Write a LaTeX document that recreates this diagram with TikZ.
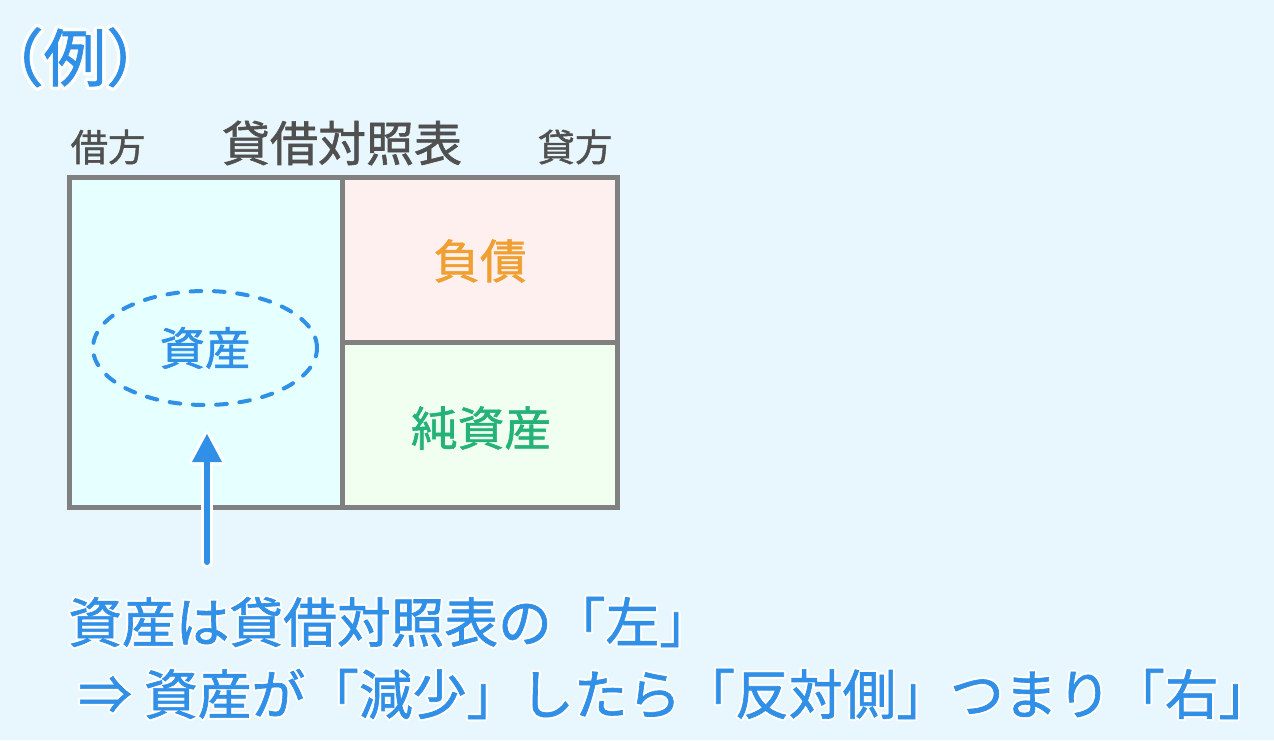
\documentclass[tikz,border=0pt]{standalone}
\usepackage{fontspec}
\newfontfamily\jp[FakeBold=1.2]{Noto Sans CJK JP}
\usepackage{contour}
\usetikzlibrary{shapes.geometric}
\definecolor{bg}{HTML}{E8F7FE}
\definecolor{frame}{HTML}{808080}
\definecolor{fillL}{HTML}{E6FFFF}
\definecolor{fillTR}{HTML}{FFF0F0}
\definecolor{fillBR}{HTML}{F0FFF0}
\definecolor{txtblue}{HTML}{3090E8}
\definecolor{txtgray}{HTML}{505050}
\definecolor{txtorange}{HTML}{F0A030}
\definecolor{txtgreen}{HTML}{25B277}
\newcommand{\fs}[1]{\fontsize{#1}{#1}\selectfont}
\tikzset{
  lbl/.style={font=\jp, inner sep=0pt},
  framebox/.style={draw=frame, line width=3.75pt},
}
\begin{document}
\begin{tikzpicture}[x=0.75pt,y=-0.75pt]
\fill[bg] (0,0) rectangle (1274,740);
\useasboundingbox (0,0) rectangle (1274,740);

% title
\node[lbl, text=txtblue] (rei) at (75,59) {\fs{47pt}\contourlength{2.5pt}\contour{white}{（例）}};
\node[lbl, text=txtgray] (kari) at (108,147) {\fs{28pt}借方};
\node[lbl, text=txtgray] (title) at (342,143) {\fs{36pt}貸借対照表};
\node[lbl, text=txtgray] (kashi) at (575,147) {\fs{28pt}貸方};

% balance sheet
\fill[fillL] (69,177) rectangle (342,507);
\fill[fillTR] (342,177) rectangle (617,342);
\fill[fillBR] (342,342) rectangle (617,507);
\draw[framebox] (69,177) rectangle (617,507);
\draw[framebox] (342,177) -- (342,507);
\draw[framebox] (342,342) -- (617,342);

\node[lbl, text=txtorange] (fusai) at (480,261) {\fs{35pt}負債};
\node[lbl, text=txtgreen] (jun) at (481,428) {\fs{35pt}純資産};
\node[lbl, text=txtblue, shape=ellipse, draw=txtblue, line width=3pt,
      dash pattern=on 8pt off 9.5pt, line cap=round,
      minimum width=168pt, minimum height=85.5pt] (asset) at (205,348) {\fs{34pt}資産};

% arrow
\coordinate (aS) at (207,562);
\coordinate (aB) at (207,458);
\coordinate (aT) at (207,434);
\draw[white, line width=9pt, line cap=round] (aS) -- (aB);
\draw[white, line width=4.5pt, line join=round] (aT) -- ++(-15,28) -- ++(30,0) -- cycle;
\draw[txtblue, line width=4.5pt, line cap=round] (aS) -- (aB);
\fill[txtblue] (aT) -- ++(-15,28) -- ++(30,0) -- cycle;

% explanation
\node[lbl, text=txtblue, anchor=west] (line1) at (68,623) {\fs{40.3pt}\contourlength{1.5pt}\contour{white}{資産は貸借対照表の「左」}};
\node[lbl, text=txtblue, anchor=west] (line2) at (78,695) {\fs{40.3pt}\contourlength{1.5pt}\contour{white}{⇒ 資産が「減少」したら「反対側」つまり「右」}};
\end{tikzpicture}
\end{document}
